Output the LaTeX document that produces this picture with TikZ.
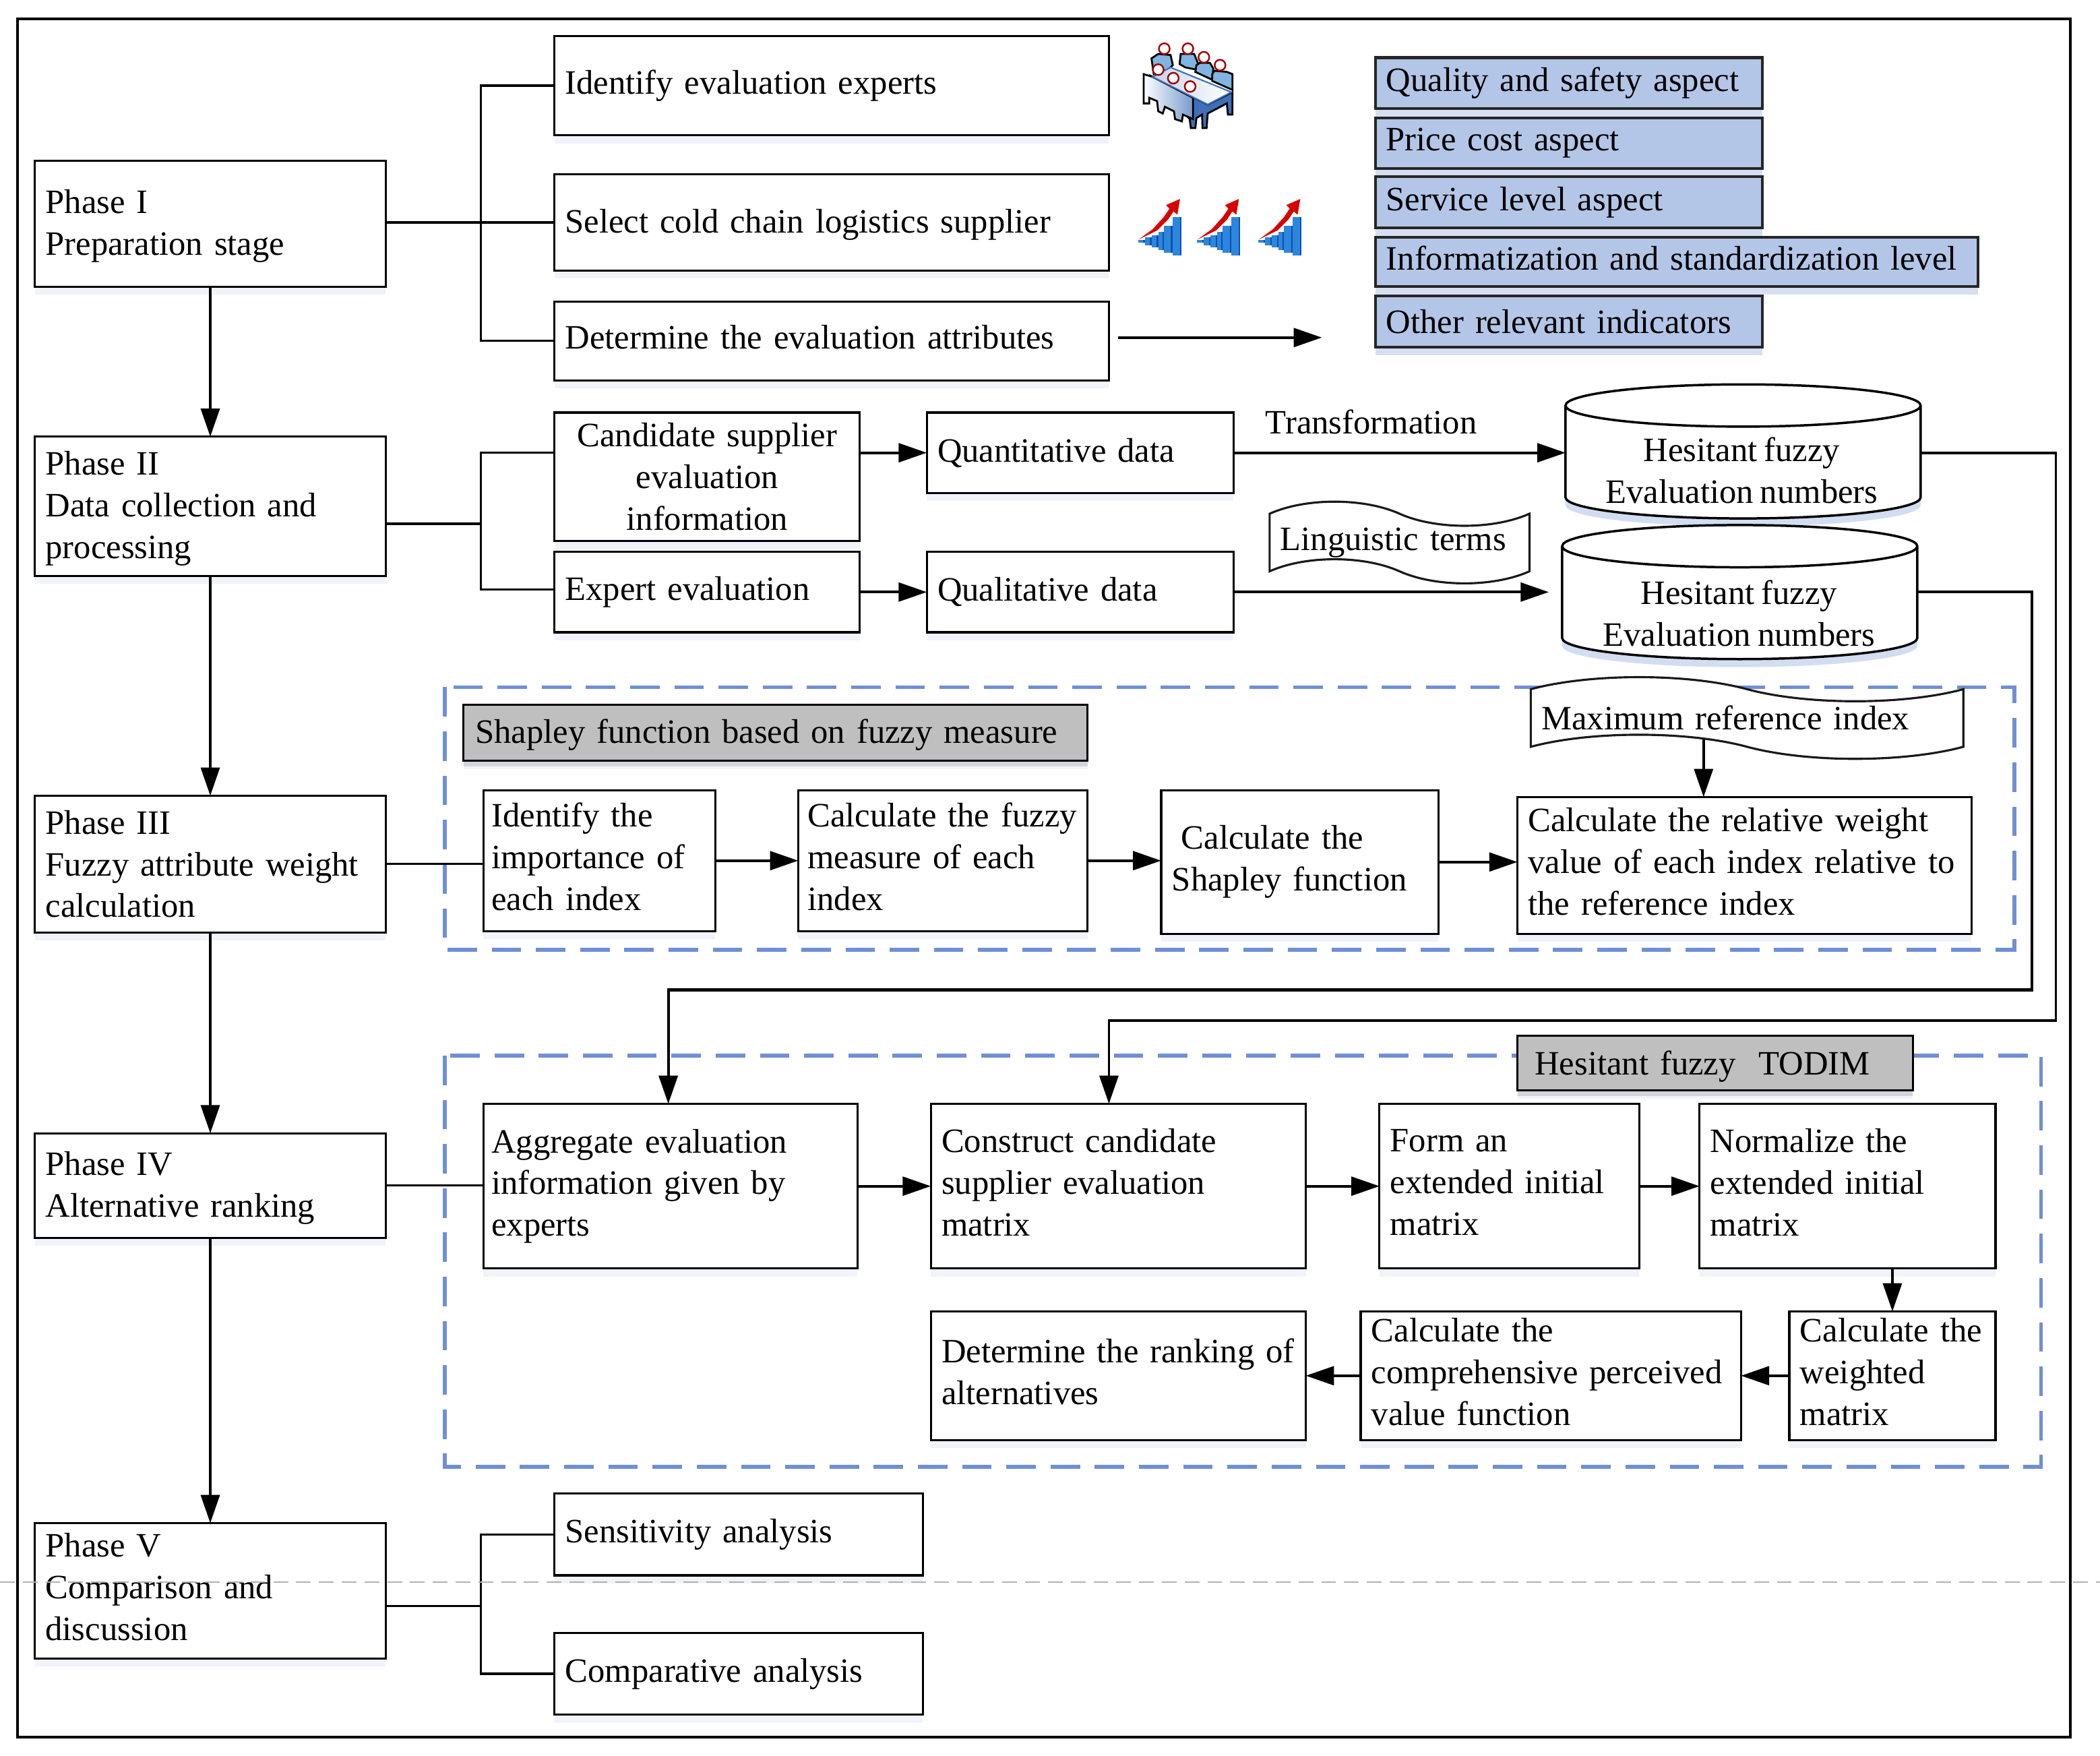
\documentclass[tikz,border=0pt]{standalone}
\usepackage{fontspec}
\setmainfont[WordSpace=0.8]{Liberation Serif}
\usepackage{tikz}
\usetikzlibrary{calc}
\usetikzlibrary{arrows.meta}
\usetikzlibrary{positioning,shadows,shapes.geometric,shapes.symbols}
\definecolor{AspectBlue}{HTML}{B4C6E7}
\definecolor{FrameBlue}{HTML}{6F8FD6}
\definecolor{BarBlue}{HTML}{2B86E0}
\definecolor{BarDark}{HTML}{1450A0}
\definecolor{SeatBlue}{HTML}{7FB5E0}
\definecolor{TableBlue}{HTML}{3F6FB8}
\definecolor{SeamGray}{HTML}{B0B2B2}
\newcommand{\Lift}{\rule[-.06cm]{0pt}{0pt}}
\newcommand{\Sink}{\rule{0pt}{.21cm}}
\newcommand{\ChartIcon}[1]{
\begin{scope}[shift={(#1,141)},x=.001678cm,y=-.001678cm]
\foreach \xa/\xb/\ya/\yb in {25/55/228/240,55/85/215/250,85/115/205/260,115/140/190/272,140/178/165/283,178/218/125/295} {
  \fill[BarBlue] (\xa,\ya) rectangle (\xb,\yb);
  \fill[BarDark] (\xb-7,\ya) rectangle (\xb,\yb);
}
\fill[red!85!black] (28,225) -- (90,180) -- (140,125) -- (165,88) -- (150,72) -- (212,45) -- (200,115) -- (183,100) -- (160,135) -- (110,185) -- cycle;
\end{scope}
}
\newcommand{\HeadIcon}[2]{
\draw[red!65!black,line width=.35pt,fill=white] (#1,#2) circle (24);
}
\begin{document}
\begin{tikzpicture}[
x=.01cm,y=-.01cm,
every node/.style={font=\fontsize{7.25}{8.85}\selectfont,outer sep=0pt},
Box/.style 2 args={rectangle,draw=black,line width=.45pt,fill=white,anchor=north west,
  inner xsep=.08cm,inner ysep=0pt,text width=(#1-16)*.01cm,minimum height=#2*.01cm,align=left,
  drop shadow={shadow xshift=0pt,shadow yshift=-.6mm,fill=FrameBlue,opacity=.10}},
Aspect/.style 2 args={Box={#1}{#2},fill=AspectBlue,draw=black!85,line width=.6pt,
  drop shadow={shadow xshift=0pt,shadow yshift=-.6mm,fill=FrameBlue,opacity=.20}},
GrayBox/.style 2 args={Box={#1}{#2},fill=black!25,inner xsep=.09cm,text width=(#1-18)*.01cm,
  drop shadow={shadow xshift=0pt,shadow yshift=-.4mm,fill=black,opacity=.12}},
Store/.style={cylinder,shape border rotate=90,aspect=.155,draw=black,line width=.5pt,fill=white,
  minimum width=2.65cm,minimum height=1cm,inner sep=0pt,anchor=shape center,
  drop shadow={shadow xshift=0pt,shadow yshift=-.6mm,fill=FrameBlue,opacity=.30}},
StoreText/.style={inner sep=0pt,align=center},
Note/.style 2 args={tape,tape bend top=out and in,tape bend bottom=out and in,tape bend height=.18cm,
  draw=black!90,line width=.45pt,fill=white,anchor=center,
  inner xsep=.08cm,inner ysep=0pt,text width=(#1-16)*.01cm,minimum height=#2*.01cm,align=left},
Link/.style={line width=.5pt},
Flow/.style={line width=.55pt,-{Triangle[length=2.1mm,width=1.4mm]}},
Region/.style={draw=FrameBlue,line width=.8pt,dash pattern=on 2.2mm off 1.1mm}
]
\useasboundingbox (0,0) rectangle (1568,1310.85);
\fill[white] (0,0) rectangle (1568,1310.85);
\node[rectangle,draw=black,line width=.6pt,anchor=north west,minimum width=15.32cm,minimum height=12.82cm] (Outer) at (13,14) {};
\draw[Region] (332,513) rectangle (1504,709);
\draw[Region] (332,788) rectangle (1524,1095);

% phases
\node[Box={262}{94}] (PhaseA) at (26,120) {\Sink Phase I\\Preparation stage};
\node[Box={262}{104}] (PhaseB) at (26,326) {\Sink Phase II\\Data collection and\\processing};
\node[Box={262}{102}] (PhaseC) at (26,594) {Phase III\\Fuzzy attribute weight\\calculation};
\node[Box={262}{78}] (PhaseD) at (26,846) {\Sink Phase IV\\Alternative ranking};
\node[Box={262}{101}] (PhaseE) at (26,1137) {Phase V\\Comparison and\\discussion\Lift};

% preparation
\node[Box={414}{74}] (Experts) at (414,27) {Identify evaluation experts};
\node[Box={414}{72}] (Supplier) at (414,130) {\Sink Select cold chain logistics supplier};
\node[Box={414}{59}] (Attributes) at (414,225) {Determine the evaluation attributes\Lift};
\node[Aspect={289}{38}] (Quality) at (1027,43) {Quality and safety aspect};
\node[Aspect={289}{38}] (Price) at (1027,88) {Price cost aspect};
\node[Aspect={289}{38}] (Service) at (1027,132) {Service level aspect};
\node[Aspect={450}{37}] (Standard) at (1027,177) {Informatization and standardization level\Lift};
\node[Aspect={289}{38}] (Other) at (1027,221) {Other relevant indicators};

% data
\node[Box={228}{96},align=center] (Candidate) at (414,308) {Candidate supplier\\evaluation\\information};
\node[Box={228}{60}] (Expert) at (414,412) {Expert evaluation};
\node[Box={229}{60}] (Quant) at (692,308) {Quantitative data};
\node[Box={229}{60}] (Qual) at (692,412) {Qualitative data};
\node[Store] (StoreA) at (1301.5,337) {\hphantom{Evaluation numbers}};
\node[Store] (StoreB) at (1299,442) {\hphantom{Evaluation numbers}};
\node[StoreText] (StoreAText) at (1300.5,351) {Hesitant fuzzy\\Evaluation numbers};
\node[StoreText] (StoreBText) at (1298.5,458) {Hesitant fuzzy\\Evaluation numbers};
\node[anchor=west,inner sep=0pt] (Transform) at (945,315) {Transformation};
\node[Note={194}{61}] (Terms) at (1045,405) {Linguistic terms};

% weights
\node[GrayBox={466}{42}] (Shapley) at (346,526) {\Sink Shapley function based on fuzzy measure};
\node[Note={323}{61}] (MaxRef) at (1304.5,536) {Maximum reference index};
\node[Box={173}{105},inner xsep=.06cm,text width=1.61cm] (Importance) at (361,590) {Identify the\\importance of\\each index\Lift};
\node[Box={216}{105},inner xsep=.07cm,text width=2.02cm] (Measure) at (596,590) {Calculate the fuzzy\\measure of each\\index\Lift};
\node[Box={207}{107}] (ShapleyFn) at (867,590) {\hspace*{.07cm}Calculate the\\Shapley function};
\node[Box={339}{102}] (Relative) at (1133,595) {Calculate the relative weight\\value of each index relative to\\the reference index\Lift};

% ranking
\node[GrayBox={295}{41},inner xsep=.13cm,text width=2.69cm] (Todim) at (1133,773) {\rule{0pt}{.23cm}Hesitant fuzzy\ \ TODIM};
\node[Box={279}{123},inner xsep=.06cm,text width=2.67cm] (Aggregate) at (361,824) {Aggregate evaluation\\information given by\\experts};
\node[Box={280}{123}] (Construct) at (695,824) {Construct candidate\\supplier evaluation\\matrix\Lift};
\node[Box={194}{123}] (Form) at (1030,824) {Form an\\extended initial\\matrix\Lift};
\node[Box={221}{123}] (Normalize) at (1269,824) {Normalize the\\extended initial\\matrix\Lift};
\node[Box={154}{96}] (Weighted) at (1336,979) {Calculate the\\weighted\\matrix\Lift};
\node[Box={284}{96}] (Perceived) at (1016,979) {Calculate the\\comprehensive perceived\\value function\Lift};
\node[Box={280}{96}] (Ranking) at (695,979) {Determine the ranking of\\alternatives\Lift};

% discussion
\node[Box={275}{61}] (Sensitivity) at (414,1115) {Sensitivity analysis};
\node[Box={275}{61}] (Comparative) at (414,1219) {Comparative analysis};

% junctions and free ends
\coordinate (JoinA) at (359,166);
\coordinate (JoinB) at (359,391);
\coordinate (JoinE) at (359,1199);
\coordinate (AttrEnd) at (987,252);
\coordinate (MaxFoot) at (1272,552);
\coordinate (RunA) at (1535,762);
\coordinate (RunB) at (1517,739);
\coordinate (DropA) at (828,762);
\coordinate (DropB) at (499,739);

\draw[Flow] (PhaseA) -- (PhaseB);
\draw[Flow] (PhaseB) -- (PhaseC);
\draw[Flow] (PhaseC) -- (PhaseD);
\draw[Flow] (PhaseD) -- (PhaseE);

\draw[Link] (PhaseA.east |- JoinA) -- (JoinA -| Supplier.west);
\draw[Link] (Experts.west) -| (JoinA) |- (Attributes.west);
\draw[Link] (PhaseB.east |- JoinB) -- (JoinB);
\draw[Link] ($(Candidate.west)+(0,-18)$) -| (JoinB) |- ($(Expert.west)+(0,-2)$);
\draw[Link] (PhaseC.east) -- (PhaseC.east -| Importance.west);
\draw[Link] (PhaseD.east) -- (PhaseD.east -| Aggregate.west);
\draw[Link] (PhaseE.east |- JoinE) -- (JoinE);
\draw[Link] (Sensitivity.west) -| (JoinE) |- (Comparative.west);

\draw[Flow,shorten <=.07cm] (Attributes.east |- AttrEnd) -- (AttrEnd);
\draw[Flow] (Candidate.east |- Quant) -- (Quant.west);
\draw[Flow] (Expert) -- (Qual);
\draw[Flow] (Quant.east) -- (Quant.east -| StoreA.west);
\draw[Flow,shorten >=.1cm] (Qual.east) -- (Qual.east -| StoreB.west);

\draw[Flow] (Importance.east) -- (Importance.east -| Measure.west);
\draw[Flow] (Measure.east) -- (Measure.east -| ShapleyFn.west);
\draw[Flow] (ShapleyFn.east) -- (ShapleyFn.east -| Relative.west);
\draw[Flow] (MaxFoot) -- (MaxFoot |- Relative.north);

\draw[Flow] (StoreA.east |- Quant.east) -- (RunA |- Quant.east) -- (RunA) -- (DropA) -- (DropA |- Construct.north);
\draw[Flow,line width=.6pt] (StoreB.east |- Qual.east) -- (RunB |- Qual.east) -- (RunB) -- (DropB) -- (DropB |- Aggregate.north);

\draw[Flow] (Aggregate) -- (Construct);
\draw[Flow] (Construct) -- (Form);
\draw[Flow] (Form) -- (Normalize);
\draw[Flow] (Weighted.north |- Normalize.south) -- (Weighted.north);
\draw[Flow] (Weighted) -- (Perceived);
\draw[Flow] (Perceived) -- (Ranking);

% icons
\ChartIcon{845.5}
\ChartIcon{889.5}
\ChartIcon{935.3}
\begin{scope}[shift={(845.5,20.1)},x=.001678cm,y=-.001678cm,line width=.4pt]
\draw[fill=SeatBlue] (85,140) -- (115,120) -- (170,125) -- (180,170) -- (150,200) -- (95,210) -- cycle;
\draw[fill=SeatBlue] (210,165) -- (215,120) -- (275,120) -- (295,170) -- (285,190) -- (235,180) -- cycle;
\draw[fill=SeatBlue] (285,170) -- (300,160) -- (345,160) -- (360,185) -- (355,235) -- (280,200) -- cycle;
\draw[fill=SeatBlue] (355,210) -- (365,195) -- (420,200) -- (445,210) -- (445,280) -- (355,240) -- cycle;
\HeadIcon{142}{97}
\HeadIcon{247}{97}
\HeadIcon{318}{135}
\HeadIcon{390}{170}
\draw[fill=TableBlue] (90,222) -- (335,345) -- (445,290) -- (445,390) -- (425,390) -- (420,340) -- (335,385) -- (330,450) -- (312,450) -- (310,390) -- (285,405) -- (280,450) -- (260,450) -- (255,410) -- cycle;
\draw[left color=white,right color=TableBlue!70] (50,210) -- (50,340) -- (75,340) -- (75,315) -- (110,330) -- (115,375) -- (135,385) -- (145,355) -- (185,375) -- (190,410) -- (220,420) -- (225,390) -- (270,410) -- (270,315) -- (90,222) -- cycle;
\draw[TableBlue,left color=TableBlue!30,right color=white,line width=.3pt] (90,222) -- (170,180) -- (440,290) -- (335,345) -- cycle;
\HeadIcon{115}{190}
\HeadIcon{182}{228}
\HeadIcon{257}{265}
\end{scope}

% page seam
\coordinate (SeamA) at (0,1181);
\coordinate (SeamB) at (1568,1181);
\draw[SeamGray,line width=.35pt,dash pattern=on 1.1mm off .6mm] (SeamA) -- (SeamB);
\end{tikzpicture}
\end{document}
